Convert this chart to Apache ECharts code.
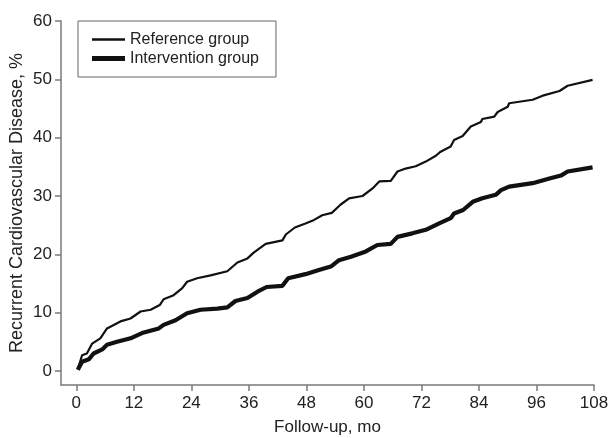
<!DOCTYPE html>
<html>
<head>
<meta charset="UTF-8">
<title>Recurrent Cardiovascular Disease</title>
<script src="https://cdn.jsdelivr.net/npm/echarts@6/dist/echarts.min.js"></script>
<style>
html, body { margin: 0; padding: 0; background: #fff; }
#main { width: 608px; height: 438px; }
</style>
</head>
<body>
<div id="main"></div>
<script type="text/javascript">
// cumulative incidence (months, %)
var refMonths = [0.3, 1.2, 2.2, 3.3, 5.0, 6.4, 7.8, 9.2, 11.3, 13.4, 15.5, 17.4, 18.2, 20.3, 22.1, 23.1, 25.2, 28.0, 31.5, 33.6, 35.7, 37.0, 39.5, 43.0, 43.7, 45.6, 47.8, 49.6, 51.3, 53.3, 55.1, 56.9, 59.7, 61.8, 63.2, 65.6, 67.0, 68.7, 70.8, 72.9, 75.0, 76.0, 78.1, 78.8, 80.6, 82.3, 84.4, 84.7, 87.2, 87.9, 90.0, 90.3, 95.2, 97.3, 100.8, 102.5, 107.7];
var refValues = [0.3, 2.7, 3.0, 4.7, 5.6, 7.3, 7.9, 8.5, 9.0, 10.2, 10.5, 11.3, 12.3, 13.0, 14.2, 15.3, 15.9, 16.4, 17.1, 18.6, 19.3, 20.3, 21.8, 22.4, 23.4, 24.6, 25.3, 25.9, 26.7, 27.1, 28.5, 29.6, 30.0, 31.3, 32.5, 32.6, 34.2, 34.7, 35.1, 35.9, 36.9, 37.6, 38.5, 39.6, 40.3, 41.9, 42.7, 43.2, 43.6, 44.4, 45.3, 45.9, 46.5, 47.2, 48.0, 48.9, 49.9];

var intMonths = [0.3, 1.2, 2.6, 3.6, 5.4, 6.4, 8.5, 11.3, 13.7, 17.2, 18.2, 20.7, 23.1, 25.9, 29.4, 31.5, 33.2, 35.7, 37.8, 39.7, 43.0, 44.2, 47.8, 50.6, 53.1, 54.8, 57.3, 60.4, 62.8, 65.6, 67.0, 70.1, 72.9, 75.7, 78.1, 78.8, 80.7, 82.7, 84.7, 87.5, 88.6, 90.3, 95.2, 98.7, 101.1, 102.5, 107.7];
var intValues = [0.2, 1.6, 2.0, 3.0, 3.7, 4.5, 5.0, 5.6, 6.5, 7.3, 7.9, 8.7, 9.9, 10.5, 10.7, 10.9, 12.0, 12.5, 13.6, 14.4, 14.6, 15.9, 16.6, 17.3, 17.9, 19.0, 19.6, 20.5, 21.6, 21.8, 23.0, 23.6, 24.2, 25.3, 26.2, 27.0, 27.6, 29.0, 29.6, 30.2, 31.0, 31.6, 32.2, 33.0, 33.5, 34.2, 34.9];

var xTicks = [0, 12, 24, 36, 48, 60, 72, 84, 96, 108];
var yTicks = [0, 10, 20, 30, 40, 50, 60];

var seriesNames = ['Reference group', 'Intervention group'];

function pairs(xs, ys) {
	var out = [];
	for (var i = 0; i < xs.length; i++) {
		out.push([xs[i], ys[i]]);
	}
	return out;
}

var font = "'Liberation Sans', Arial, sans-serif";
var axisGray = '#7a7a7a';
var textColor = '#222';

var option = {
	animation: false,
	backgroundColor: '#fff',
	textStyle: { fontFamily: font },
	grid: { left: 61, right: 14, top: 21, bottom: 53, containLabel: false, outerBoundsMode: 'none' },
	legend: {
		orient: 'vertical',
		left: 78,
		top: 21,
		padding: [9, 17, 9, 14],
		itemGap: 0,
		itemWidth: 33,
		itemHeight: 14,
		borderColor: '#666',
		borderWidth: 1,
		textStyle: { fontFamily: font, fontSize: 16, color: textColor, lineHeight: 19 },
		data: [
			{ name: seriesNames[0], icon: 'path://M0,0h33v2.6h-33z' },
			{ name: seriesNames[1], icon: 'path://M0,0h33v5h-33z' }
		]
	},
	xAxis: {
		type: 'value',
		min: -3.2,
		max: 108,
		name: 'Follow-up, mo',
		nameLocation: 'middle',
		nameGap: 34,
		nameMoveOverlap: false,
		nameTextStyle: { fontFamily: font, fontSize: 17, color: textColor },
		axisLine: { show: true, onZero: false, lineStyle: { color: axisGray, width: 1.5 } },
		axisTick: { show: true, length: 6, customValues: xTicks, lineStyle: { color: axisGray, width: 1.5 } },
		axisLabel: { customValues: xTicks, margin: 10, fontFamily: font, fontSize: 17, color: textColor },
		splitLine: { show: false }
	},
	yAxis: {
		type: 'value',
		min: -2.4,
		max: 60,
		name: 'Recurrent Cardiovascular Disease, %',
		nameLocation: 'middle',
		nameGap: 35,
		nameMoveOverlap: false,
		nameTextStyle: { fontFamily: font, fontSize: 18, color: textColor },
		axisLine: { show: true, onZero: false, lineStyle: { color: axisGray, width: 1.5 } },
		axisTick: { show: true, length: 6, customValues: yTicks, lineStyle: { color: axisGray, width: 1.5 } },
		axisLabel: { customValues: yTicks, margin: 9, fontFamily: font, fontSize: 17, color: textColor },
		splitLine: { show: false }
	},
	series: [
		{
			name: seriesNames[0],
			type: 'line',
			showSymbol: false,
			symbol: 'none',
			color: '#111',
			lineStyle: { color: '#111', width: 2.2 },
			data: pairs(refMonths, refValues)
		},
		{
			name: seriesNames[1],
			type: 'line',
			showSymbol: false,
			symbol: 'none',
			color: '#111',
			lineStyle: { color: '#111', width: 4.2 },
			data: pairs(intMonths, intValues)
		}
	]
};

var myChart = echarts.init(document.getElementById('main'));
myChart.setOption(option);
</script>
</body>
</html>
